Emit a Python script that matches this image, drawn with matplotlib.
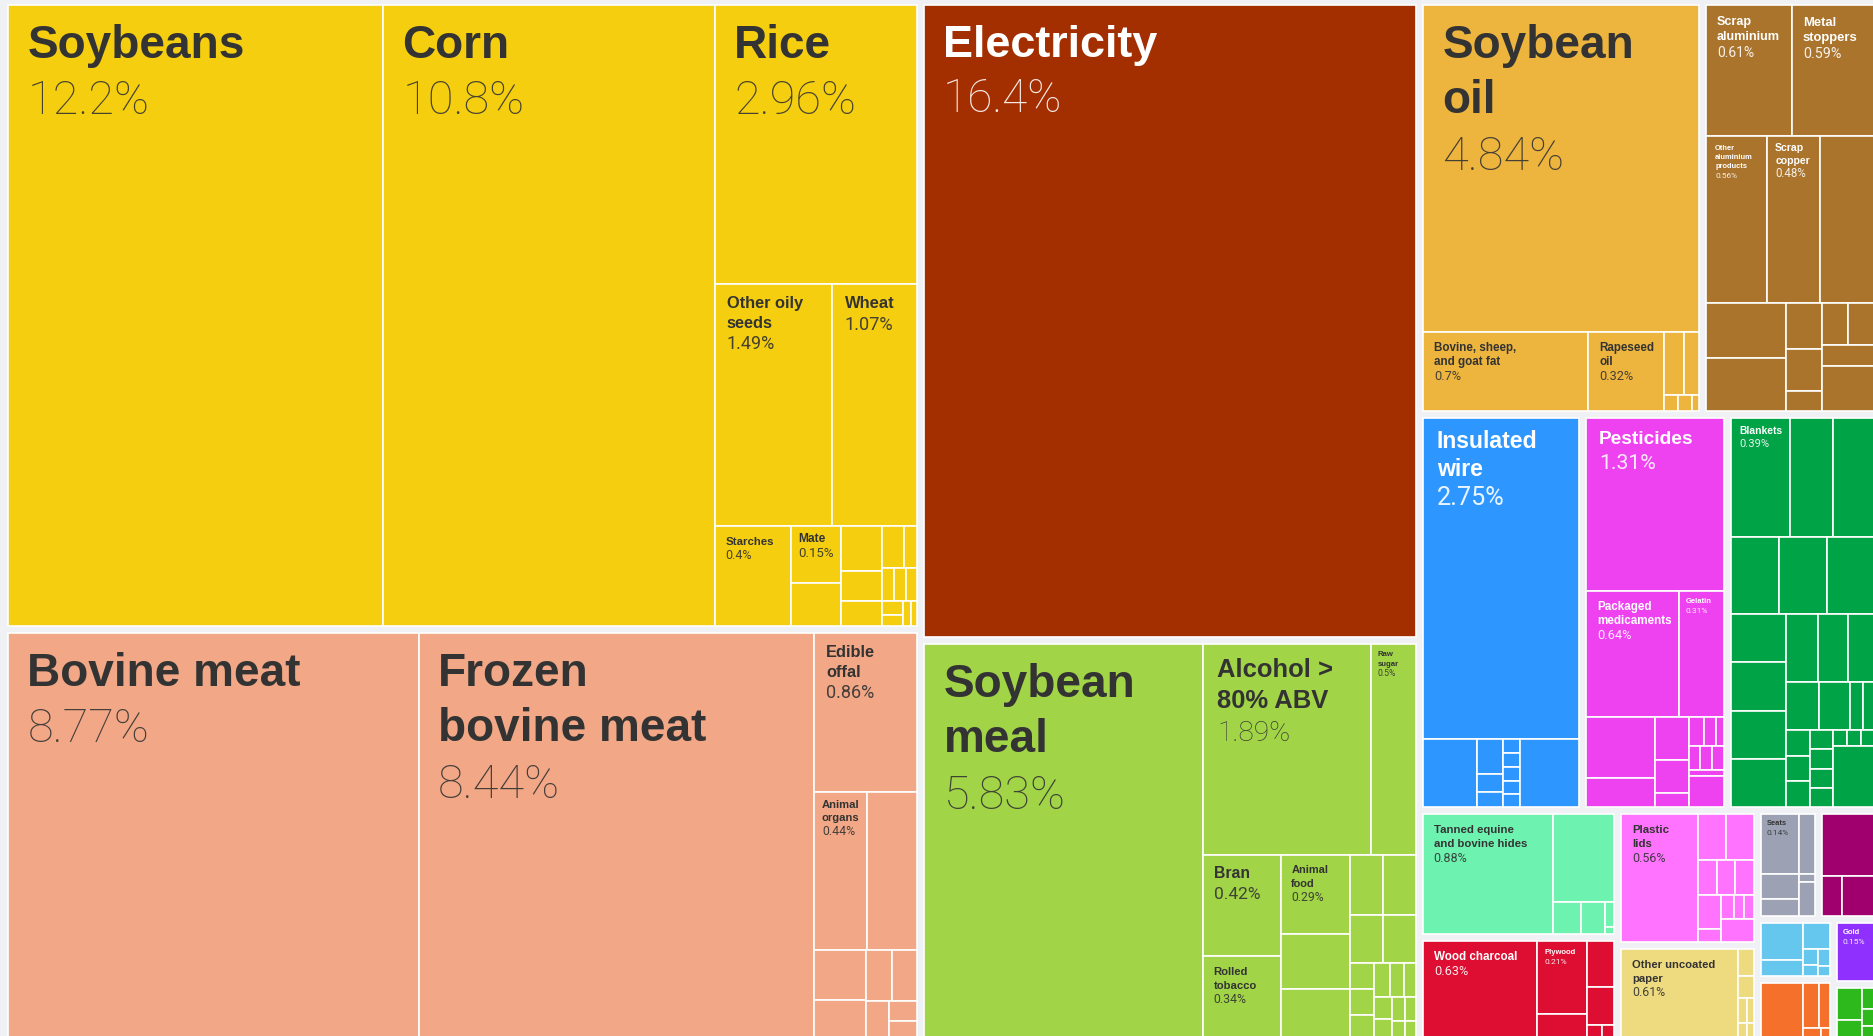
import matplotlib
matplotlib.use("Agg")
import matplotlib.pyplot as plt
from matplotlib.patches import Rectangle

veg_labels = ["Soybeans", "Corn", "Rice", "Other oily\nseeds", "Wheat", "Starches", "Mate"]
veg_values = [12.2, 10.8, 2.96, 1.49, 1.07, 0.4, 0.15, 0.113, 0.097, 0.065, 0.053,
              0.05, 0.028, 0.022, 0.02, 0.02, 0.016, 0.012, 0.01, 0.008]

animal_labels = ["Bovine meat", "Frozen\nbovine meat", "Edible\noffal", "Animal\norgans"]
animal_values = [8.77, 8.44, 0.86, 0.44, 0.42, 0.137, 0.105, 0.068, 0.067, 0.045, 0.03, 0.025]

mineral_labels = ["Electricity"]
mineral_values = [16.4]

food_labels = ["Soybean\nmeal", "Alcohol >\n80% ABV", "Raw\nsugar", "Bran", "Rolled\ntobacco", "Animal\nfood"]
food_values = [5.83, 1.89, 0.5, 0.42, 0.34, 0.29, 0.2, 0.18, 0.106, 0.103, 0.084, 0.084,
               0.034, 0.033, 0.03, 0.028, 0.025, 0.022, 0.02, 0.018, 0.016, 0.014, 0.012, 0.01]

fats_labels = ["Soybean\noil", "Bovine, sheep,\nand goat fat", "Rapeseed\noil"]
fats_values = [4.84, 0.7, 0.32, 0.07, 0.05, 0.012, 0.011, 0.006]

metal_labels = ["Scrap\naluminium", "Metal\nstoppers", "Other\naluminium\nproducts", "Scrap\ncopper"]
metal_values = [0.61, 0.59, 0.56, 0.48, 0.5, 0.24, 0.23, 0.088, 0.08, 0.038, 0.06, 0.06, 0.06, 0.13]

machine_labels = ["Insulated\nwire"]
machine_values = [2.75, 0.2, 0.05, 0.026, 0.023, 0.013, 0.013, 0.013, 0.012, 0.012, 0.22]

chem_labels = ["Pesticides", "Packaged\nmedicaments", "Gelatin"]
chem_values = [1.31, 0.64, 0.31, 0.235, 0.11, 0.08, 0.062, 0.026, 0.025, 0.019, 0.013,
               0.015, 0.015, 0.015, 0.012, 0.06]

textile_labels = ["Blankets"]
textile_values = [0.39, 0.28, 0.27, 0.205, 0.205, 0.2, 0.147, 0.147, 0.147, 0.147, 0.12, 0.11, 0.1,
                  0.087, 0.081, 0.034, 0.03, 0.034, 0.034, 0.034, 0.025, 0.025, 0.025, 0.025,
                  0.012, 0.012, 0.012, 0.14]

hides_labels = ["Tanned equine\nand bovine hides"]
hides_values = [0.88, 0.3, 0.052, 0.043, 0.013, 0.004]

wood_labels = ["Wood charcoal", "Plywood"]
wood_values = [0.63, 0.21, 0.07, 0.07, 0.058, 0.011, 0.009]

plastic_labels = ["Plastic\nlids"]
plastic_values = [0.56, 0.074, 0.073, 0.037, 0.037, 0.037, 0.045, 0.017, 0.018, 0.014, 0.014, 0.044]

paper_labels = ["Other uncoated\npaper"]
paper_values = [0.61, 0.025, 0.02, 0.012, 0.011, 0.008, 0.006]

transport_labels = ["Seats"]
transport_values = [0.14, 0.062, 0.056, 0.04, 0.008, 0.035]

arts_labels = []
arts_values = [0.2, 0.05, 0.08]

instrument_labels = []
instrument_values = [0.099, 0.044, 0.046, 0.015, 0.01, 0.013, 0.008]

footwear_labels = []
footwear_values = [0.145, 0.048, 0.03, 0.012, 0.006]

precious_labels = ["Gold"]
precious_values = [0.15]

stone_labels = []
stone_values = [0.055, 0.032, 0.018, 0.015, 0.01]

DARK = "#333333"
WHITE = "#ffffff"
BG = "#f0f1f5"

sections = [
    (veg_labels, veg_values, "#F5CE10", DARK),
    (animal_labels, animal_values, "#F2A886", DARK),
    (mineral_labels, mineral_values, "#A32E00", WHITE),
    (food_labels, food_values, "#A1D446", DARK),
    (fats_labels, fats_values, "#EDB53D", DARK),
    (metal_labels, metal_values, "#AA742D", WHITE),
    (machine_labels, machine_values, "#2E97FF", WHITE),
    (chem_labels, chem_values, "#EE42F0", WHITE),
    (textile_labels, textile_values, "#01A347", WHITE),
    (hides_labels, hides_values, "#6EF2B0", DARK),
    (wood_labels, wood_values, "#DD0E31", WHITE),
    (plastic_labels, plastic_values, "#FF73FF", DARK),
    (paper_labels, paper_values, "#EEDA7F", DARK),
    (transport_labels, transport_values, "#9CA1B3", DARK),
    (arts_labels, arts_values, "#A0006E", WHITE),
    (instrument_labels, instrument_values, "#66C7EE", DARK),
    (footwear_labels, footwear_values, "#F5712B", WHITE),
    (precious_labels, precious_values, "#8F30FF", WHITE),
    (stone_labels, stone_values, "#2DB81C", WHITE),
]

# name font size in pixels for each labelled tile
label_px = {
    "Soybeans": 46, "Corn": 46, "Rice": 46, "Bovine meat": 46, "Frozen\nbovine meat": 46,
    "Electricity": 45, "Soybean\nmeal": 46, "Soybean\noil": 46,
    "Alcohol >\n80% ABV": 25.6, "Insulated\nwire": 23, "Pesticides": 19.2,
    "Other oily\nseeds": 16.4, "Wheat": 16.5, "Edible\noffal": 16.4, "Bran": 15.8,
    "Scrap\naluminium": 12.6, "Metal\nstoppers": 13,
    "Starches": 11.4, "Mate": 12, "Animal\nfood": 11, "Rolled\ntobacco": 11.2,
    "Bovine, sheep,\nand goat fat": 11.6, "Rapeseed\noil": 11.6, "Packaged\nmedicaments": 11.6,
    "Tanned equine\nand bovine hides": 11.4, "Plastic\nlids": 11.4, "Wood charcoal": 11.6,
    "Other uncoated\npaper": 11.3, "Animal\norgans": 11.2, "Scrap\ncopper": 10.5, "Blankets": 10.2,
    "Raw\nsugar": 7.8, "Other\naluminium\nproducts": 7.5, "Gelatin": 7.6, "Plywood": 7.7,
    "Seats": 7.5, "Gold": 7.6,
}

W, H = 1874, 1036
X0, Y0, X1, Y1 = 4.5, 1.5, 1878, 1041.5
K = 0.732      # the tiling was decided on a vertically squashed frame
GAP = 3.5
PT = 0.72      # px -> pt at 100 dpi
PHI = (1 + 5 ** 0.5) / 2
NAME_FONT = ["Liberation Sans", "DejaVu Sans"]
PCT_FONT = ["Roboto", "Liberation Sans", "DejaVu Sans"]


def squarify(values, x0, y0, x1, y1):
    # port of d3.treemapSquarify (golden ratio), rows kept in given order
    rects = [None] * len(values)
    value = float(sum(values))
    i0, n = 0, len(values)
    while i0 < n:
        dx, dy = x1 - x0, (y1 - y0) * K
        s = values[i0]
        i1 = i0 + 1
        mn = mx = s
        alpha = max(dy / dx, dx / dy) / (value * PHI)
        beta = s * s * alpha
        best = max(mx / beta, beta / mn)
        while i1 < n:
            v = values[i1]
            s2 = s + v
            mn2, mx2 = min(mn, v), max(mx, v)
            beta = s2 * s2 * alpha
            r = max(mx2 / beta, beta / mn2)
            if r > best:
                break
            s, mn, mx, best = s2, mn2, mx2, r
            i1 += 1
        if dx < dy:
            yb = y0 + (y1 - y0) * s / value if i1 < n else y1
            xx = x0
            for i in range(i0, i1):
                w = (x1 - x0) * values[i] / s
                rects[i] = (xx, y0, xx + w, yb)
                xx += w
            y0 = yb
        else:
            xb = x0 + (x1 - x0) * s / value if i1 < n else x1
            yy = y0
            for i in range(i0, i1):
                h = (y1 - y0) * values[i] / s
                rects[i] = (x0, yy, xb, yy + h)
                yy += h
            x0 = xb
        value -= s
        i0 = i1
    return rects


fig = plt.figure(figsize=(W / 100, H / 100), dpi=100)
fig.patch.set_facecolor(BG)
ax = fig.add_axes([0, 0, 1, 1])
ax.set_xlim(0, W)
ax.set_ylim(H, 0)
ax.axis("off")


def draw_label(name, value, box, color):
    x0, y0, x1, y1 = box
    fs = label_px[name]
    pfs = fs * (1.02 if fs > 30 else 1.1)
    pad = min(8 + 0.25 * fs, 0.15 * (x1 - x0))
    x = x0 + pad
    y = y0 + pad + 0.72 * fs
    for line in name.split("\n"):
        ax.text(x, y, line, fontsize=fs * PT, fontweight="bold", family=NAME_FONT,
                color=color, va="baseline", ha="left")
        y += 1.2 * fs
    y += -1.2 * fs + 0.5 * fs + 0.72 * pfs
    ax.text(x, y, f"{value:.3g}%", fontsize=pfs * PT,
            fontweight="light" if fs > 24 else "normal", family=PCT_FONT,
            color=color, alpha=0.9, va="baseline", ha="left")


totals = [sum(s[1]) for s in sections]
for (labels, values, color, tc), box in zip(sections, squarify(totals, X0, Y0, X1, Y1)):
    a, b, c, d = box[0] + GAP, box[1] + GAP, box[2] - GAP, box[3] - GAP
    tiles = squarify(values, a, b, c, d)
    for i, r in enumerate(tiles):
        ax.add_patch(Rectangle((r[0], r[1]), r[2] - r[0], r[3] - r[1], facecolor=color,
                               edgecolor="white", linewidth=1.2))
        if i < len(labels):
            draw_label(labels[i], values[i], r, tc)

fig.savefig("out.png", dpi=100, facecolor=BG)
